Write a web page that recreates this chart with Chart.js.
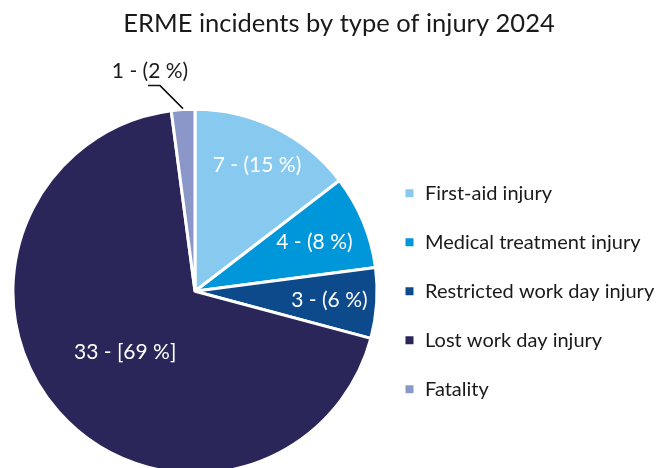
<!DOCTYPE html>
<html>
<head>
<meta charset="utf-8">
<title>ERME incidents by type of injury 2024</title>
<script src="https://cdn.jsdelivr.net/npm/chart.js@4.4.1/dist/chart.umd.min.js"></script>
<style>
    html, body { margin: 0; padding: 0; background: #fff; overflow: hidden; }
    #wrap { position: relative; width: 663px; height: 472px; }
</style>
</head>
<body>
<div id="wrap"><canvas id="injuryChart"></canvas></div>
<script>
// Chart data
const categories = ['First-aid injury', 'Medical treatment injury', 'Restricted work day injury', 'Lost work day injury', 'Fatality'];
const incidents = [7, 4, 3, 33, 1];
const sliceLabels = ['7 - (15 %)', '4 - (8 %)', '3 - (6 %)', '33 - [69 %]', '1 - (2 %)'];
const sliceColors = ['#87c9ef', '#0096da', '#0d4a8c', '#2b2659', '#8c97c9'];

const FONT = "Lato, 'Open Sans', sans-serif";

// Draws the value labels inside the slices, and the one outside with its leader line
const sliceLabelPlugin = {
    id: 'sliceLabels',
    afterDatasetsDraw(chart, args, opts) {
        const ctx = chart.ctx;
        const meta = chart.getDatasetMeta(0);
        ctx.save();
        ctx.font = opts.fontSize + 'px ' + FONT;
        ctx.textAlign = 'center';
        ctx.textBaseline = 'middle';
        meta.data.forEach((arc, i) => {
            const mid = (arc.startAngle + arc.endAngle) / 2;
            const r = arc.outerRadius;
            if (i === opts.outsideIndex) {
                // leader line from the rim out to the label
                const sx = arc.x + Math.cos(mid) * (r + 1);
                const sy = arc.y + Math.sin(mid) * (r + 1);
                const ex = sx + opts.elbow[0];
                const ey = sy + opts.elbow[1];
                ctx.strokeStyle = '#111';
                ctx.lineWidth = 1.5;
                ctx.beginPath();
                ctx.moveTo(sx, sy);
                ctx.lineTo(ex, ey);
                ctx.lineTo(ex + opts.tail, ey);
                ctx.stroke();
                ctx.fillStyle = '#1a1a1a';
                ctx.fillText(sliceLabels[i], ex + opts.tail + 2, ey - 14);
            } else {
                const f = opts.radius[i];
                ctx.fillStyle = '#ffffff';
                ctx.fillText(sliceLabels[i], arc.x + Math.cos(mid) * r * f, arc.y + Math.sin(mid) * r * f);
            }
        });
        ctx.restore();
    }
};

const ctx = document.getElementById('injuryChart').getContext('2d');
new Chart(ctx, {
    type: 'pie',
    data: {
        labels: categories,
        datasets: [{
            data: incidents,
            backgroundColor: sliceColors,
            borderColor: '#ffffff',
            borderWidth: 3
        }]
    },
    options: {
        responsive: true,
        maintainAspectRatio: false,
        animation: false,
        radius: '102%',
        layout: { padding: { left: 15, right: 0, top: 0, bottom: 0 } },
        plugins: {
            title: {
                display: true,
                text: 'ERME incidents by type of injury 2024',
                color: '#1a1a1a',
                font: { family: FONT, size: 25.5, weight: 'normal' },
                padding: { top: 8, bottom: 72 }
            },
            legend: {
                position: 'right',
                align: 'center',
                fullSize: false,
                maxWidth: 288,
                labels: {
                    color: '#1a1a1a',
                    font: { family: FONT, size: 20 },
                    boxWidth: 11,
                    boxHeight: 11,
                    padding: 29
                }
            },
            tooltip: { enabled: false },
            sliceLabels: {
                fontSize: 21,
                radius: [0.77, 0.71, 0.74, 0.51],
                outsideIndex: 4,
                elbow: [-23, -23],
                tail: -12
            }
        }
    },
    plugins: [sliceLabelPlugin]
});
</script>
</body>
</html>
